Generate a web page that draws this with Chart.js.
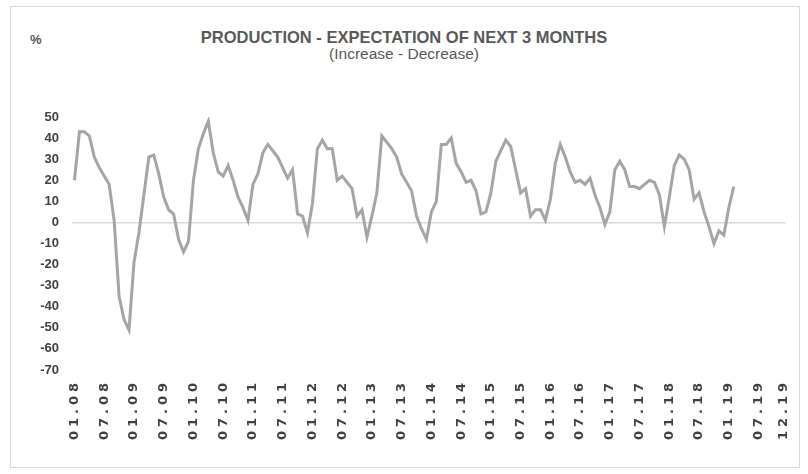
<!DOCTYPE html>
<html>
<head>
<meta charset="utf-8">
<script src="https://cdn.jsdelivr.net/npm/chart.js@4"></script>
<style>
  body { margin: 0; background: #fff; }
  #wrap { position: relative; width: 808px; height: 474px; }
  #frame { position: absolute; left: 10px; top: 6px; width: 790px; height: 462px; box-sizing: border-box; border: 1px solid #d9d9d9; }
  .txt { position: absolute; color: #595959; font-family: "Liberation Sans", Arial, sans-serif; white-space: nowrap; line-height: 1; }
  #title { left: 0; width: 808px; top: 29px; text-align: center; font-size: 16.5px; font-weight: bold; }
  #subtitle { left: 0; width: 808px; top: 46px; text-align: center; font-size: 15.5px; }
  #unit { left: 30px; top: 33px; font-size: 13px; font-weight: bold; }
  canvas { position: absolute; left: 0; top: 0; }
</style>
</head>
<body>
<div id="wrap">
  <div id="frame"></div>
  <div class="txt" id="title">PRODUCTION - EXPECTATION OF NEXT 3 MONTHS</div>
  <div class="txt" id="subtitle">(Increase - Decrease)</div>
  <div class="txt" id="unit">%</div>
  <canvas id="myChart" width="808" height="474"></canvas>
</div>
<script>
/* tick labels shown on the x axis */
const tickLabels = ['01.08','07.08','01.09','07.09','01.10','07.10','01.11','07.11','01.12','07.12',
  '01.13','07.13','01.14','07.14','01.15','07.15','01.16','07.16','01.17','07.17',
  '01.18','07.18','01.19','07.19','12.19'];

/* months on the category axis : 01.08 .. 12.19 */
const years = ['08','09','10','11','12','13','14','15','16','17','18','19'];
const months = ['01','02','03','04','05','06','07','08','09','10','11','12'];

/* balance (increase - decrease), 01.08 .. 02.19 */
const production = [
  20, 43, 43, 41, 31, 26, 22, 18, 1, -35,
  -46, -51, -19, -5, 13, 31, 32, 23, 12, 6,
  4, -8, -14, -9, 20, 35, 42, 48, 33, 24,
  22, 27, 20, 12, 7, 1, 18, 23, 33, 37,
  34, 31, 26, 21, 25, 4, 3, -5, 9, 35,
  39, 35, 35, 20, 22, 19, 16, 3, 6, -7,
  3, 14, 41, 38, 35, 31, 23, 19, 15, 3,
  -3, -8, 5, 10, 37, 37, 40, 28, 24, 19,
  20, 15, 4, 5, 14, 29, 34, 39, 36, 25,
  14, 16, 3, 6, 6, 1, 11, 28, 37, 31,
  24, 19, 20, 18, 21, 13, 7, -1, 5, 25,
  29, 25, 17, 17, 16, 18, 20, 19, 13, -2,
  12, 27, 32, 30, 25, 11, 14, 5, -2, -10,
  -4, -6, 7, 17
];

let categories = [];
for (let y = 0; y < years.length; y++) {
	for (let m = 0; m < months.length; m++) {
		categories.push(months[m] + "." + years[y]);
	}
}

/* x labels are spaced out in the original */
const xLabelSpacing = {
	id: "xLabelSpacing",
	beforeDraw: function(chart) {
		const scale = chart.scales.x;
		if (scale._spaced) return;
		const orig = scale.drawLabels.bind(scale);
		scale.drawLabels = function(area) {
			const c = this.ctx;
			c.save();
			c.letterSpacing = "4px";
			orig(area);
			c.restore();
		};
		scale._spaced = true;
	}
};

const ctx = document.getElementById("myChart").getContext("2d");

const lineChart = new Chart(ctx, {
	type: "line",
	data: {
		labels: categories,
		datasets: [
			{
				label: "Production",
				data: production,
				borderColor: "#a5a5a5",
				borderWidth: 3,
				pointRadius: 0,
				tension: 0,
				fill: false
			}
		]
	},
	options: {
		responsive: false,
		animation: false,
		layout: { padding: { left: 0, right: 15, top: 117, bottom: 0 } },
		plugins: {
			legend: { display: false },
			tooltip: { enabled: false }
		},
		scales: {
			x: {
				offset: true,
				grid: { display: false, drawTicks: false },
				border: { display: false },
				afterFit: function(scale) { scale.height = 104; },
				ticks: {
					autoSkip: false,
					maxRotation: 90,
					minRotation: 90,
					padding: 9,
					color: "#404040",
					font: { family: "DejaVu Sans", size: 13, weight: "bold" },
					callback: function(val, index) {
						let lab = this.getLabelForValue(val);
						return tickLabels.includes(lab) ? lab : null;
					}
				}
			},
			y: {
				min: -70,
				max: 50,
				afterFit: function(scale) { scale.width = 72; },
				border: { display: false },
				grid: {
					drawTicks: false,
					lineWidth: 1.5,
					color: function(c) { return c.tick && c.tick.value === 0 ? "#d9d9d9" : "rgba(0,0,0,0)"; }
				},
				ticks: {
					stepSize: 10,
					padding: 13,
					color: "#404040",
					font: { family: "Liberation Sans", size: 13, weight: "bold" }
				}
			}
		}
	},
	plugins: [xLabelSpacing]
});
</script>
</body>
</html>
